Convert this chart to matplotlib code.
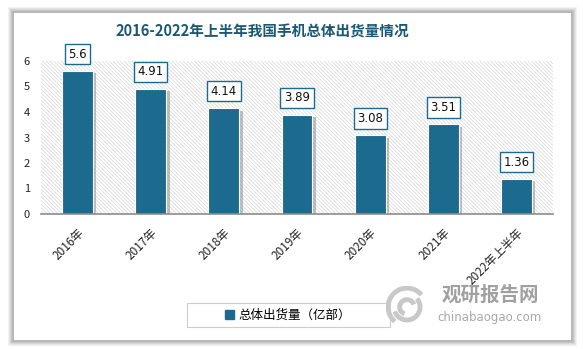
import matplotlib.pyplot as plt
import matplotlib.patheffects as pe
from matplotlib.patches import Rectangle, Arc

plt.rcParams['font.family'] = ['Noto Sans CJK SC', 'DejaVu Sans']
plt.rcParams['hatch.linewidth'] = 0.5
plt.rcParams['hatch.color'] = '#d6d6d6'

years = ['2016年', '2017年', '2018年', '2019年', '2020年', '2021年', '2022年上半年']
shipments = [5.6, 4.91, 4.14, 3.89, 3.08, 3.51, 1.36]
series_name = '总体出货量（亿部）'

BAR = '#1c6b8f'
W, H = 583, 349

fig = plt.figure(figsize=(W / 100, H / 100), dpi=100)
fig.patch.set_facecolor('white')

# soft shadow behind the white card
for i, a in enumerate([0.05, 0.05, 0.06, 0.07, 0.08]):
    g = 6 - i
    fig.patches.append(Rectangle(((14 - g) / W, 1 - (340 + g) / H), (557 + 2 * g) / W, (327 + 2 * g) / H,
                                 transform=fig.transFigure, facecolor='black', alpha=a,
                                 edgecolor='none', zorder=0))
fig.patches.append(Rectangle((14 / W, 1 - 340 / H), 557 / W, 327 / H, transform=fig.transFigure,
                             facecolor='white', edgecolor='none', zorder=1))

ax = fig.add_axes([41 / W, 1 - 214 / H, 512 / W, 153 / H])
ax.set_facecolor('none')
ax.set_zorder(2)
ax.add_patch(Rectangle((0, 0), 1, 1, transform=ax.transAxes, facecolor='white',
                       hatch='\\' * 9, edgecolor='#d6d6d6', linewidth=0, zorder=0))

x = list(range(len(years)))
bars = ax.bar(x, shipments, width=0.42, color=BAR, edgecolor='white', linewidth=0.8, zorder=3)
for b in bars:
    b.set_path_effects([pe.SimplePatchShadow(offset=(2.5, -1.5), shadow_rgbFace='#777777', alpha=0.45),
                        pe.Normal()])

for xi, v in zip(x, shipments):
    ax.annotate(f'{v:g}', (xi, v), xytext=(0, 17), textcoords='offset pixels',
                ha='center', va='center', fontsize=8.5, color='#111111', zorder=5,
                family=['DejaVu Sans'],
                bbox=dict(boxstyle='square,pad=0.3', facecolor='white', edgecolor=BAR, linewidth=1.0))

ax.set_xlim(-0.5, len(years) - 0.5)
ax.set_ylim(0, 6)
ax.set_yticks(range(0, 7))
ax.tick_params(axis='y', length=0, labelsize=8, pad=8, labelcolor='#222222')
ax.tick_params(axis='x', length=0, pad=9)
ax.set_xticks(x)
ax.set_xticklabels(years, rotation=45, ha='right', rotation_mode='anchor', fontsize=8.5, color='#222222')
for s in ['top', 'right', 'left']:
    ax.spines[s].set_visible(False)
ax.spines['bottom'].set_color('#8c8c8c')
ax.spines['bottom'].set_linewidth(1.2)
ax.spines['bottom'].set_zorder(4)

fig.text(262 / W, 1 - 32 / H, '2016-2022年上半年我国手机总体出货量情况', ha='center', va='center',
         fontsize=10.5, fontweight='bold', color='#1a5876', zorder=3)

# legend box
fig.patches.append(Rectangle((187 / W, 1 - 327 / H), 203 / W, 24 / H, transform=fig.transFigure,
                             facecolor='white', edgecolor='#cccccc', linewidth=0.8, zorder=2))
fig.legend([Rectangle((0, 0), 1, 1, color=BAR)], [series_name], loc='center',
           bbox_to_anchor=(288 / W, 1 - 315 / H), frameon=False, fontsize=9,
           handlelength=0.7, handleheight=0.7, handletextpad=0.4)

# watermark
wm = fig.add_axes([386 / W, 1 - 328 / H, 42 / W, 42 / H])
wm.set_zorder(3)
wm.set_xlim(-1, 1)
wm.set_ylim(-1, 1)
wm.axis('off')
wm.set_aspect('equal')
for r, t1, t2 in [(0.9, 40, 230), (0.62, 200, 400), (0.35, 20, 250)]:
    wm.add_patch(Arc((0, 0), 2 * r, 2 * r, theta1=t1, theta2=t2, color='#c8c8c8', linewidth=3.5))
fig.text(490 / W, 1 - 295 / H, '观研报告网', ha='center', va='center', fontsize=14,
         fontweight='bold', color='#a0a0a0', zorder=3)
fig.text(490 / W, 1 - 317 / H, 'chinabaogao.com', ha='center', va='center', fontsize=8.5,
         color='#a8a8a8', family=['DejaVu Sans'], zorder=3)

fig.savefig('out.png', dpi=100)
